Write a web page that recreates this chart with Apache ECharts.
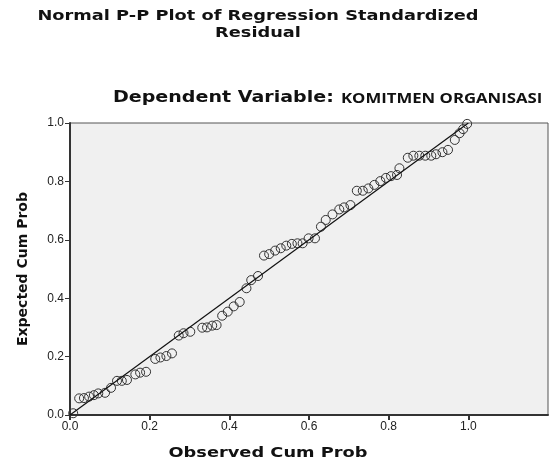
<!DOCTYPE html>
<html>
<head>
<meta charset="utf-8">
<script src="https://cdn.jsdelivr.net/npm/echarts@6/dist/echarts.min.js"></script>
<style>
    html, body {margin: 0; padding: 0; background: #fff;}
    #main {width: 553px; height: 463px;}
</style>
</head>
<body>
<div id="main"></div>
<script>
// 观测累计概率 / 期望累计概率
var observed = [0.008, 0.023, 0.035, 0.048, 0.060, 0.071, 0.088, 0.103, 0.118, 0.130,
    0.143, 0.164, 0.176, 0.191, 0.214, 0.227, 0.242, 0.256, 0.273, 0.285,
    0.302, 0.332, 0.344, 0.357, 0.368, 0.382, 0.396, 0.411, 0.426, 0.443,
    0.455, 0.472, 0.487, 0.500, 0.515, 0.529, 0.543, 0.557, 0.571, 0.584,
    0.599, 0.615, 0.630, 0.642, 0.659, 0.676, 0.688, 0.704, 0.720, 0.735,
    0.749, 0.764, 0.779, 0.793, 0.806, 0.821, 0.827, 0.848, 0.862, 0.877,
    0.892, 0.907, 0.919, 0.935, 0.949, 0.966, 0.978, 0.987, 0.997];
var expected = [0.006, 0.057, 0.058, 0.063, 0.068, 0.074, 0.076, 0.093, 0.117, 0.117,
    0.120, 0.139, 0.145, 0.148, 0.192, 0.197, 0.202, 0.211, 0.272, 0.280,
    0.285, 0.299, 0.300, 0.306, 0.308, 0.340, 0.354, 0.372, 0.387, 0.434,
    0.462, 0.476, 0.546, 0.551, 0.563, 0.571, 0.580, 0.586, 0.588, 0.588,
    0.605, 0.605, 0.645, 0.668, 0.687, 0.704, 0.711, 0.719, 0.768, 0.768,
    0.776, 0.788, 0.801, 0.812, 0.818, 0.822, 0.845, 0.881, 0.888, 0.888,
    0.888, 0.888, 0.893, 0.900, 0.908, 0.942, 0.965, 0.979, 0.997];
var tickValues = [0, 0.2, 0.4, 0.6, 0.8, 1.0];
var refLine = [[0, 0], [1, 1]];

var myChart = echarts.init(document.getElementById('main'));

var points = [];
for (var i = 0; i < observed.length; i++) {
    points.push([observed[i], expected[i]]);
}

var font = 'Liberation Sans, Arial, sans-serif';
var boldFont = 'bold 14px DejaVu Sans, sans-serif';
// 原图文字横向被拉宽
var stretch = 1.27;

var option = {
    animation: false,
    graphic: [
        {
            type: 'text', x: 258, y: 8, scaleX: stretch,
            style: {
                text: 'Normal P-P Plot of Regression Standardized\nResidual',
                font: boldFont, lineHeight: 17, textAlign: 'center', fill: '#111'
            }
        },
        {
            type: 'text', x: 113, y: 98, scaleX: stretch,
            style: {
                text: 'Dependent Variable:',
                font: 'bold 15px DejaVu Sans, sans-serif', textVerticalAlign: 'middle', fill: '#111'
            }
        },
        {
            type: 'text', x: 341, y: 99, scaleX: 1.24,
            style: {
                text: 'KOMITMEN ORGANISASI',
                font: 'bold 13.5px Open Sans, sans-serif', textVerticalAlign: 'middle', fill: '#111'
            }
        },
        {
            type: 'text', x: 268, y: 453, scaleX: stretch,
            style: {
                text: 'Observed Cum Prob',
                font: boldFont, textAlign: 'center', textVerticalAlign: 'middle', fill: '#111'
            }
        }
    ],
    grid: {
        show: true,
        left: 70,
        right: 5,
        top: 123,
        bottom: 48,
        backgroundColor: '#f0f0f0',
        borderColor: '#555',
        borderWidth: 1
    },
    xAxis: {
        type: 'value',
        min: 0,
        max: 1.2,
        interval: 0.2,
        axisLine: {onZero: false, lineStyle: {color: '#333', width: 2}},
        axisTick: {customValues: tickValues, length: 5, lineStyle: {color: '#333', width: 2}},
        axisLabel: {
            customValues: tickValues,
            margin: 6,
            fontFamily: font,
            fontSize: 12,
            color: '#222',
            formatter: function (val) { return val.toFixed(1); }
        },
        splitLine: {show: false}
    },
    yAxis: {
        type: 'value',
        min: 0,
        max: 1,
        interval: 0.2,
        name: 'Expected Cum Prob',
        nameLocation: 'middle',
        nameGap: 40,
        nameTextStyle: {
            fontFamily: 'DejaVu Sans, sans-serif',
            fontWeight: 'bold',
            fontSize: 14,
            color: '#111'
        },
        axisLine: {onZero: false, lineStyle: {color: '#333', width: 2}},
        axisTick: {length: 5, lineStyle: {color: '#333', width: 1}},
        axisLabel: {
            margin: 6,
            fontFamily: font,
            fontSize: 12,
            color: '#222',
            formatter: function (val) { return val.toFixed(1); }
        },
        splitLine: {show: false}
    },
    series: [
        {
            type: 'line',
            data: refLine,
            symbol: 'none',
            silent: true,
            lineStyle: {color: '#111', width: 1.2}
        },
        {
            type: 'scatter',
            data: points,
            symbol: 'circle',
            symbolSize: 9,
            itemStyle: {color: 'rgba(0,0,0,0)', borderColor: '#333', borderWidth: 1, opacity: 1}
        }
    ]
};

myChart.setOption(option);
</script>
</body>
</html>
